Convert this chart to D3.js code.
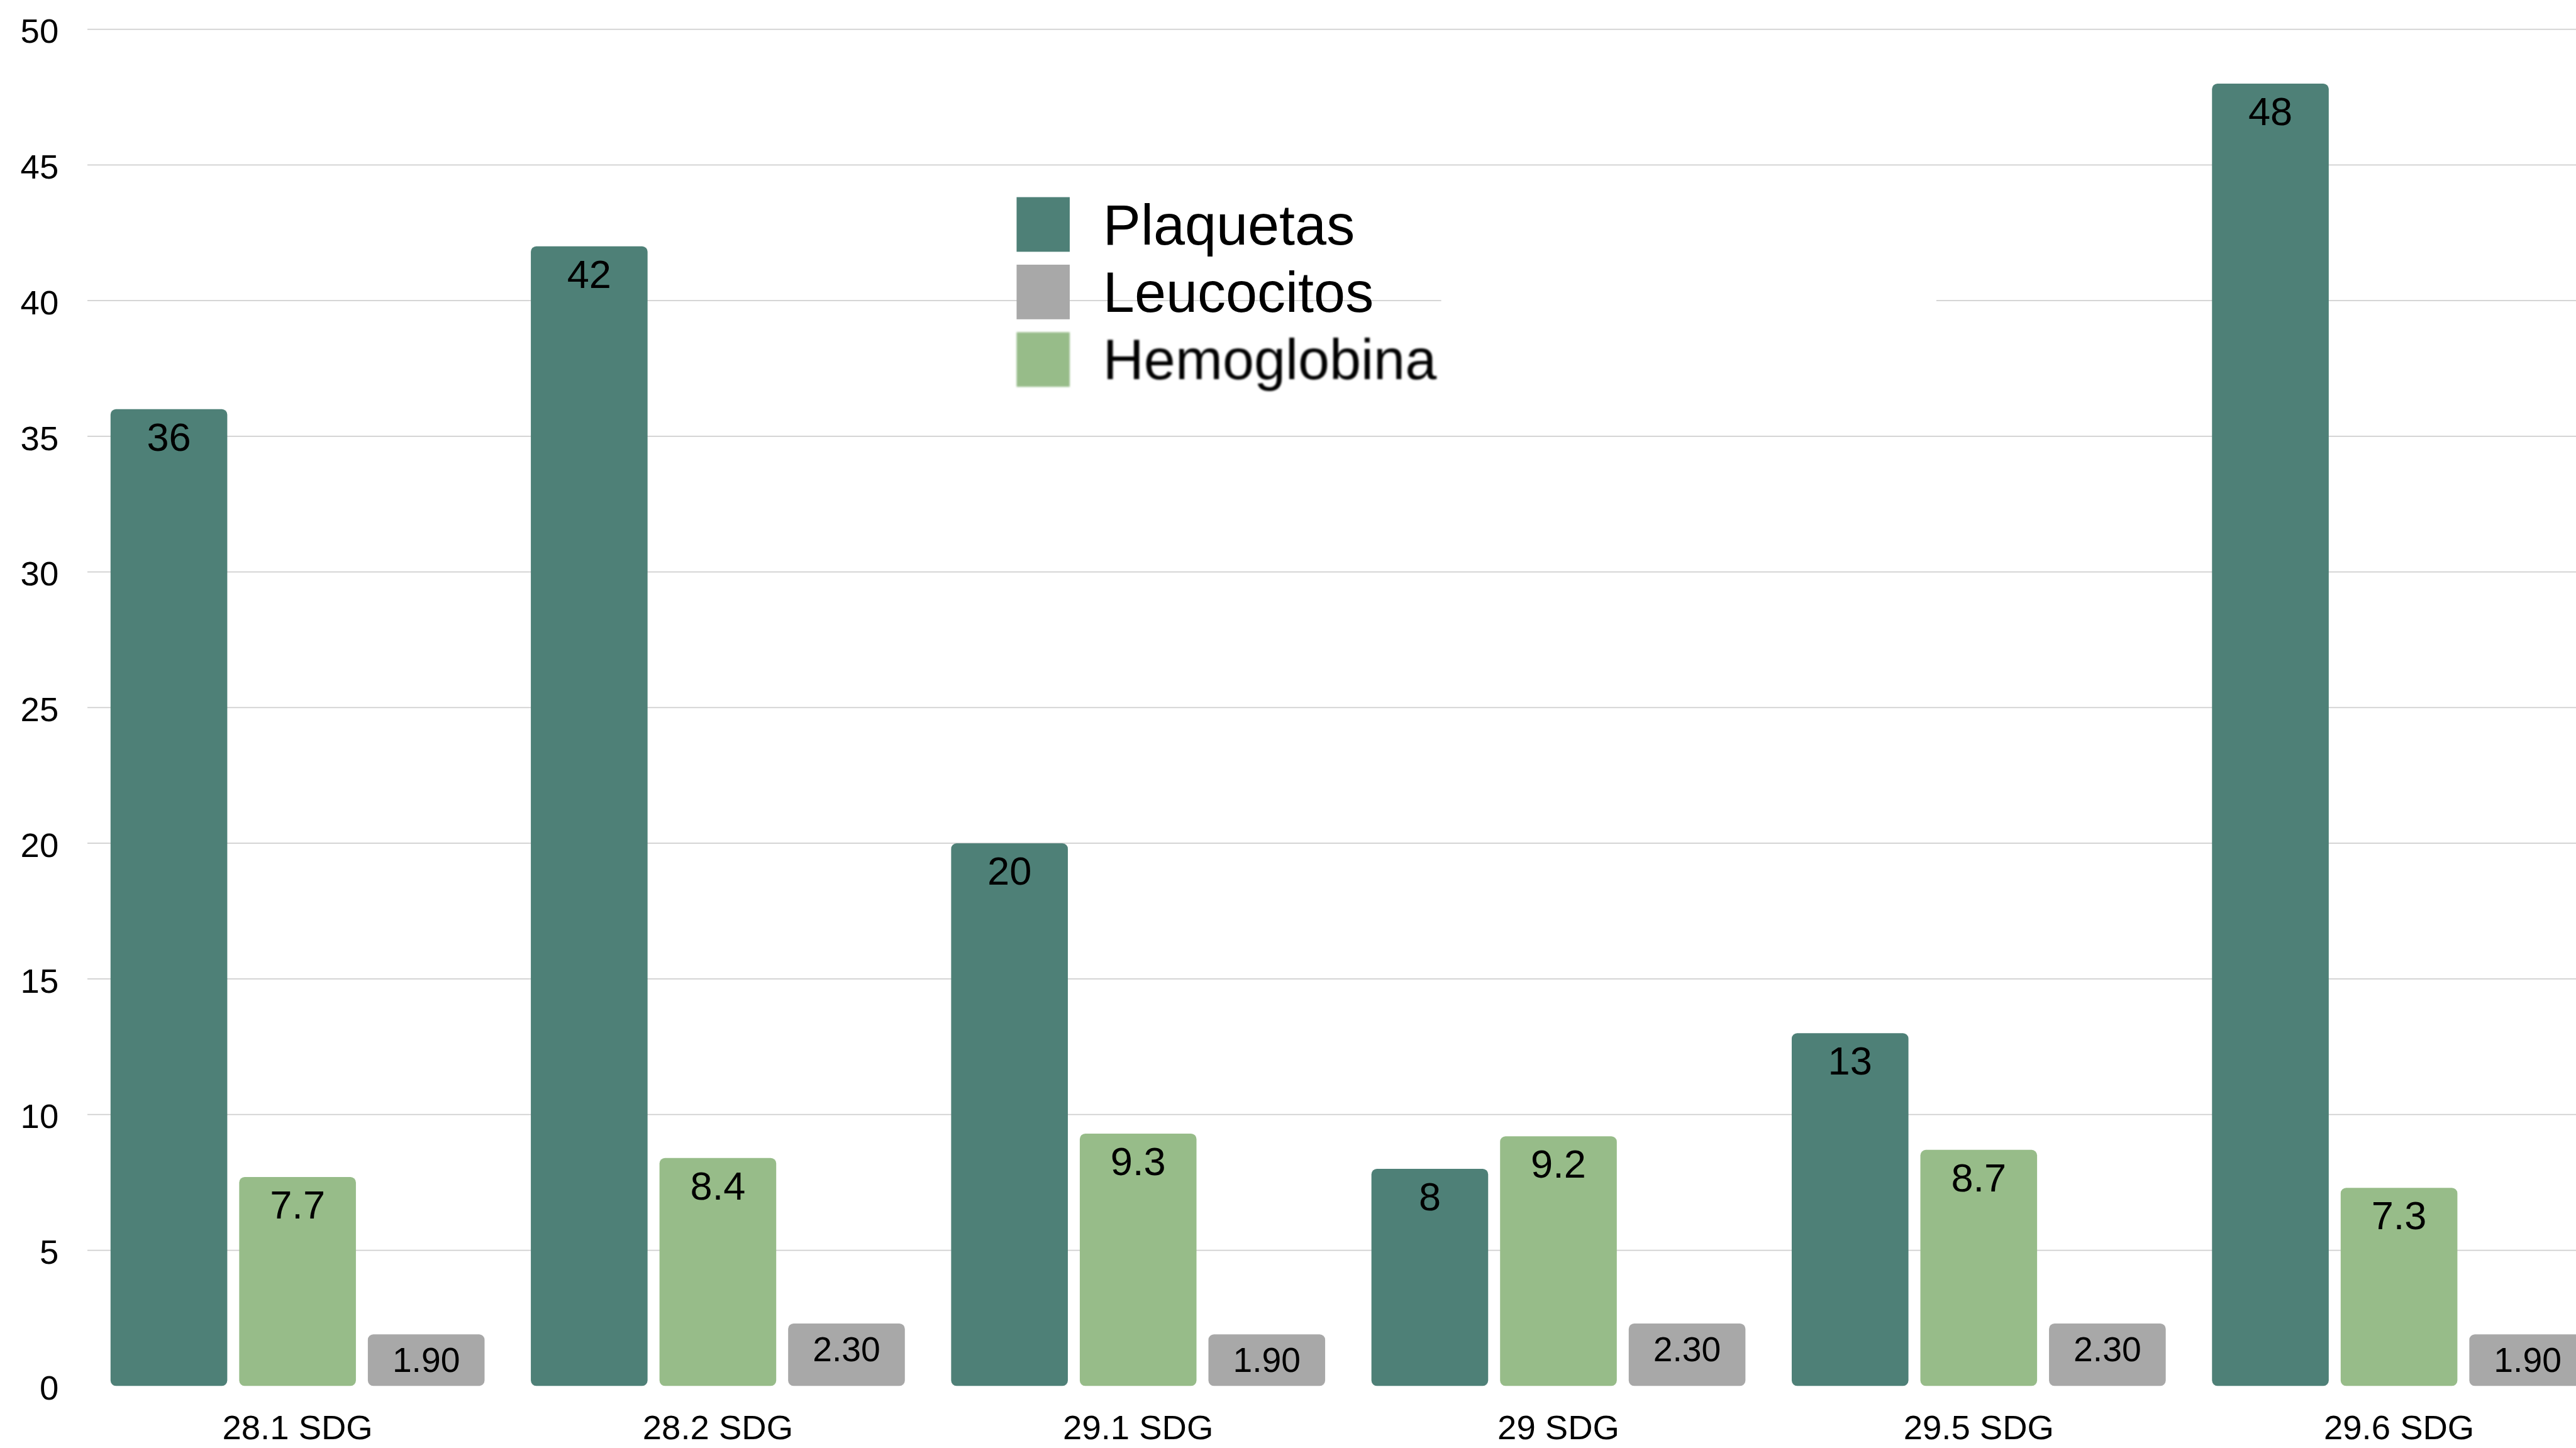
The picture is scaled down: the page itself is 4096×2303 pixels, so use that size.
<!DOCTYPE html>
<html>
<head>
<meta charset="utf-8">
<script src="https://cdn.jsdelivr.net/npm/d3@7"></script>
<style>
  html, body { margin: 0; padding: 0; background: #ffffff; overflow: hidden; }
  svg { display: block; }
</style>
</head>
<body>
<svg id="chart"></svg>
<script>
// Gestational age points (semanas de gestación)
const categories = ["28.1 SDG", "28.2 SDG", "29.1 SDG", "29 SDG", "29.5 SDG", "29.6 SDG"];

// Lab values per point
const plaquetas   = [36, 42, 20, 8, 13, 48];
const hemoglobina = [7.7, 8.4, 9.3, 9.2, 8.7, 7.3];
const leucocitos  = [1.90, 2.30, 1.90, 2.30, 2.30, 1.90];

// Bar order inside each group, and legend order
const seriesNames = ["Plaquetas", "Hemoglobina", "Leucocitos"];
const legendNames = ["Plaquetas", "Leucocitos", "Hemoglobina"];

// Value axis ticks
const yTicks = [0, 5, 10, 15, 20, 25, 30, 35, 40, 45, 50];

const seriesValues = { Plaquetas: plaquetas, Hemoglobina: hemoglobina, Leucocitos: leucocitos };
const colors = { Plaquetas: "#4e8077", Hemoglobina: "#97bc89", Leucocitos: "#a8a8a8" };
const labelFormat = {
  Plaquetas: d => String(d),
  Hemoglobina: d => String(d),
  Leucocitos: d3.format(".2f")
};

// Drawing space (scaled down to the window by the viewBox)
const W = 5187, H = 2916;
const FONT = "'Liberation Sans', Helvetica, Arial, sans-serif";

const svg = d3.select("#chart")
  .attr("width", 4096)
  .attr("height", 2303)
  .attr("viewBox", `0 0 ${W} ${H}`)
  .attr("preserveAspectRatio", "none")
  .style("font-family", FONT);

const defs = svg.append("defs");
defs.append("filter").attr("id", "soft")
  .attr("x", "-5%").attr("y", "-20%").attr("width", "110%").attr("height", "140%")
  .append("feGaussianBlur").attr("stdDeviation", 2.2);
defs.append("filter").attr("id", "haze")
  .attr("x", "-5%").attr("y", "-300%").attr("width", "110%").attr("height", "700%")
  .append("feGaussianBlur").attr("stdDeviation", 4);

const plotLeft = 176;
const groupStep = 846.3;

const x0 = d3.scaleBand()
  .domain(categories)
  .range([plotLeft, plotLeft + groupStep * categories.length]);

const x1 = d3.scaleBand()
  .domain(seriesNames)
  .range([46.6, groupStep - 46.6])
  .paddingInner(0.0927);

const y = d3.scaleLinear().domain([0, 50]).range([2791, 59]);

// Horizontal gridlines (none at zero)
svg.append("g")
  .attr("class", "grid")
  .selectAll("line")
  .data(yTicks.filter(t => t !== 0))
  .join("line")
  .attr("x1", plotLeft)
  .attr("x2", W)
  .attr("y1", d => y(d))
  .attr("y2", d => y(d))
  .attr("stroke", "#cfcfcf")
  .attr("stroke-width", 2.2);

// White backing behind the legend block, with its faint edge line
svg.append("rect")
  .attr("x", 2902).attr("y", 580)
  .attr("width", 3899 - 2902).attr("height", 45)
  .attr("fill", "#ffffff");
svg.append("line")
  .attr("x1", 2906).attr("x2", 3895)
  .attr("y1", 596).attr("y2", 596)
  .attr("stroke", "#e4e4e4")
  .attr("stroke-width", 6)
  .attr("filter", "url(#haze)");

// Value axis labels
const yAxis = svg.append("g")
  .attr("transform", `translate(${plotLeft},0)`)
  .call(d3.axisLeft(y).tickValues(yTicks).tickSize(0).tickPadding(58).tickFormat(d3.format("d")));
yAxis.select(".domain").remove();
yAxis.selectAll("text")
  .attr("dy", "0.39em")
  .style("font-family", FONT)
  .style("font-size", "69px")
  .attr("fill", "#000");

// Category axis labels
const xAxis = svg.append("g")
  .attr("transform", `translate(0,${y(0)})`)
  .call(d3.axisBottom(x0).tickSize(0).tickPadding(0));
xAxis.select(".domain").remove();
xAxis.selectAll("text")
  .attr("y", 107)
  .attr("dy", 0)
  .style("font-family", FONT)
  .style("font-size", "69px")
  .attr("fill", "#000");

// Bars
const rows = categories.map((c, i) => ({
  cat: c,
  items: seriesNames.map(s => ({ series: s, value: seriesValues[s][i] }))
}));

const groups = svg.append("g").attr("class", "bars")
  .selectAll("g")
  .data(rows)
  .join("g")
  .attr("transform", d => `translate(${x0(d.cat)},0)`);

groups.selectAll("rect")
  .data(d => d.items)
  .join("rect")
  .attr("x", d => x1(d.series))
  .attr("y", d => y(d.value))
  .attr("width", x1.bandwidth())
  .attr("height", d => y(0) - y(d.value))
  .attr("rx", 11)
  .attr("ry", 11)
  .attr("fill", d => colors[d.series]);

// Value labels inside the top of each bar
const labelSize = s => (s === "Leucocitos" ? 70 : 80);
groups.selectAll("text")
  .data(d => d.items)
  .join("text")
  .attr("x", d => x1(d.series) + x1.bandwidth() / 2)
  .attr("y", d => y(d.value) + 26 + 0.716 * labelSize(d.series))
  .attr("text-anchor", "middle")
  .style("font-size", d => labelSize(d.series) + "px")
  .attr("fill", "#000")
  .text(d => labelFormat[d.series](d.value));

// Legend
const legend = svg.append("g").attr("class", "legend");
const legendItems = legend.selectAll("g")
  .data(legendNames)
  .join("g")
  .attr("transform", (d, i) => `translate(2047,${397 + i * 136})`)
  .attr("filter", d => (d === "Hemoglobina" ? "url(#soft)" : null));

legendItems.append("rect")
  .attr("width", 107)
  .attr("height", 110)
  .attr("fill", d => colors[d]);

legendItems.append("text")
  .attr("x", 174)
  .attr("y", 95)
  .style("font-size", "114px")
  .attr("fill", "#000")
  .text(d => d);
</script>
</body>
</html>
